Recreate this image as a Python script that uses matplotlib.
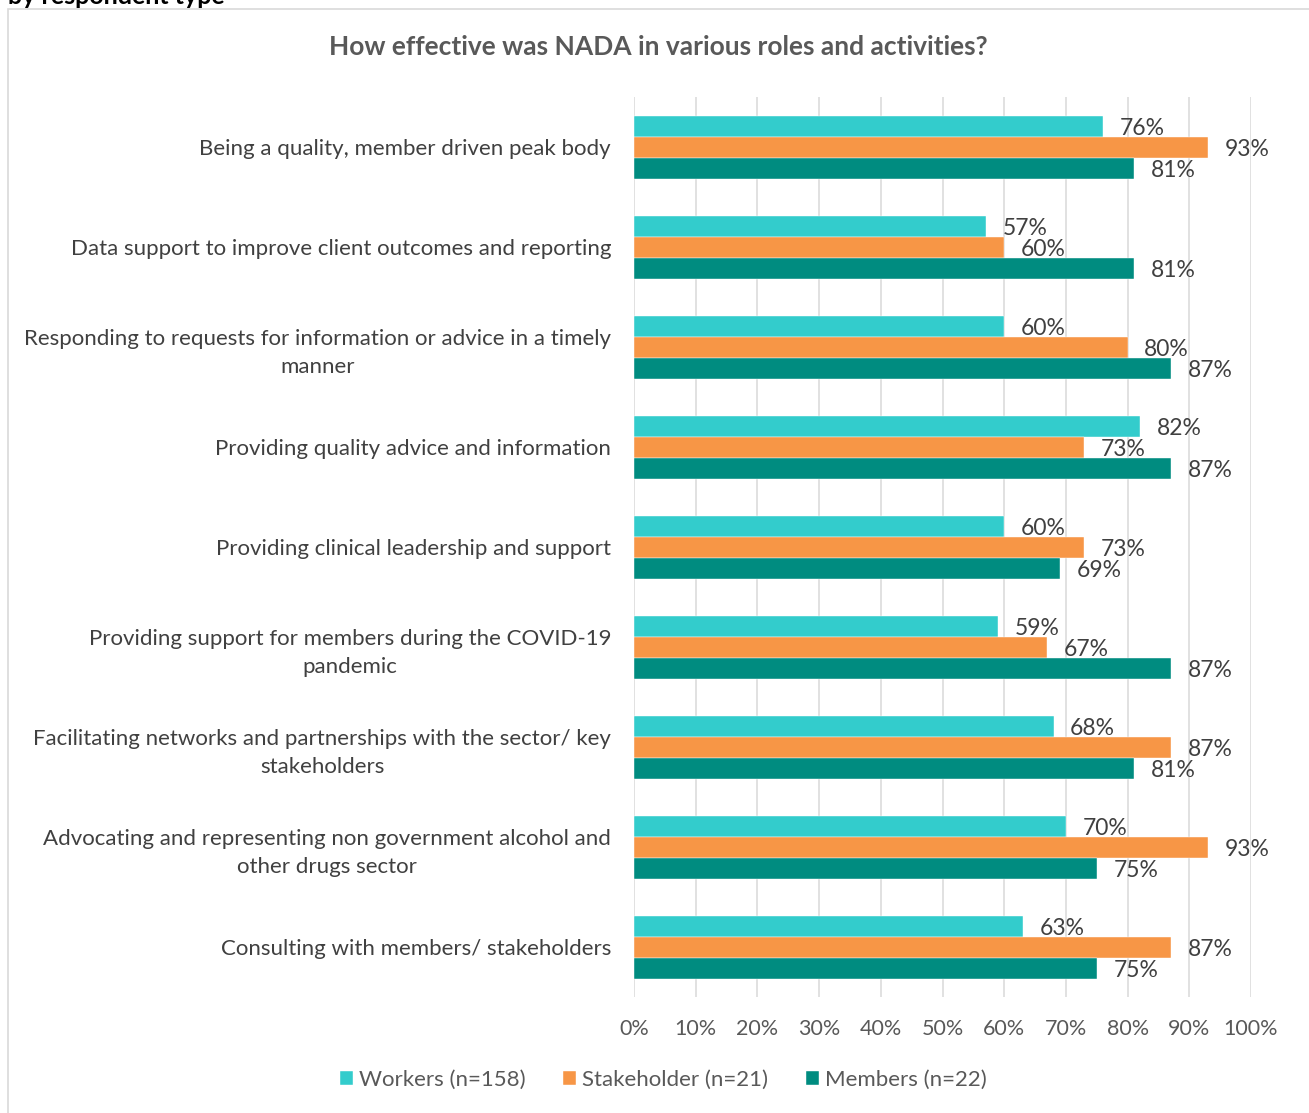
import matplotlib
matplotlib.use('Agg')
import matplotlib.pyplot as plt
import numpy as np
from matplotlib.patches import Rectangle

plt.rcParams['font.family'] = ['Lato', 'DejaVu Sans']

categorias = ['Being a quality, member driven peak body',
              'Data support to improve client outcomes and reporting',
              'Responding to requests for information or advice in a timely\nmanner',
              'Providing quality advice and information',
              'Providing clinical leadership and support',
              'Providing support for members during the COVID-19\npandemic',
              'Facilitating networks and partnerships with the sector/ key\nstakeholders',
              'Advocating and representing non government alcohol and\nother drugs sector',
              'Consulting with members/ stakeholders']
workers = [76, 57, 60, 82, 60, 59, 68, 70, 63]
stakeholder = [93, 60, 80, 73, 73, 67, 87, 93, 87]
members = [81, 81, 87, 87, 69, 87, 81, 75, 75]
series_nombres = ['Workers (n=158)', 'Stakeholder (n=21)', 'Members (n=22)']
colores = ['#33CCCC', '#F79646', '#008C80']
ticks = [0, 10, 20, 30, 40, 50, 60, 70, 80, 90, 100]

fig = plt.figure(figsize=(13.09, 11.13), dpi=100)
# marco del grafico
fig.patches.append(Rectangle((8/1309, -0.01), 1.1, 1 - 9/1113 + 0.01, transform=fig.transFigure,
                             fill=False, edgecolor='#D9D9D9', linewidth=1.2))
fig.text(8/1309, 1 - 4/1113, 'by respondent type', fontsize=18, fontweight='bold',
         color='black', ha='left', va='baseline')

ax = fig.add_axes([634/1309, 1 - 997/1113, 617/1309, 900/1113])
y = np.arange(len(categorias))
h = 0.21
datos = [workers, stakeholder, members]
for k in range(3):
    pos = y + (k - 1) * h
    ax.barh(pos, datos[k], height=h, color=colores[k], label=series_nombres[k],
            edgecolor='white', linewidth=0.3, zorder=3)
    for p, v in zip(pos, datos[k]):
        ax.annotate(str(v) + '%', (v, p), xytext=(12, -1.5), textcoords='offset points',
                    ha='left', va='center', fontsize=16.5, color='#404040')

ax.set_xlim(0, 100)
ax.set_ylim(len(categorias) - 0.5, -0.5)
ax.set_xticks(ticks)
ax.set_xticklabels([str(t) + '%' for t in ticks])
ax.set_yticks(y)
ax.set_yticklabels(categorias, multialignment='center', linespacing=1.5)
ax.tick_params(axis='y', length=0, pad=16.5, labelsize=16, labelcolor='#404040')
ax.tick_params(axis='x', length=0, pad=16, labelsize=15.5, labelcolor='#595959')
ax.grid(axis='x', color='#D9D9D9', linewidth=1.1, zorder=0)
for s in ax.spines.values():
    s.set_visible(False)

fig.text(658/1309, 1 - 47/1113, 'How effective was NADA in various roles and activities?',
         fontsize=19, fontweight='bold', color='#595959', ha='center', va='center')

fig.legend(loc='center', bbox_to_anchor=(663/1309, 1 - 1080/1113), ncol=3, frameon=False,
           fontsize=16, labelcolor='#595959', handlelength=0.6, handleheight=0.6,
           handletextpad=0.25, columnspacing=1.7)

fig.savefig('out.png', dpi=100)
